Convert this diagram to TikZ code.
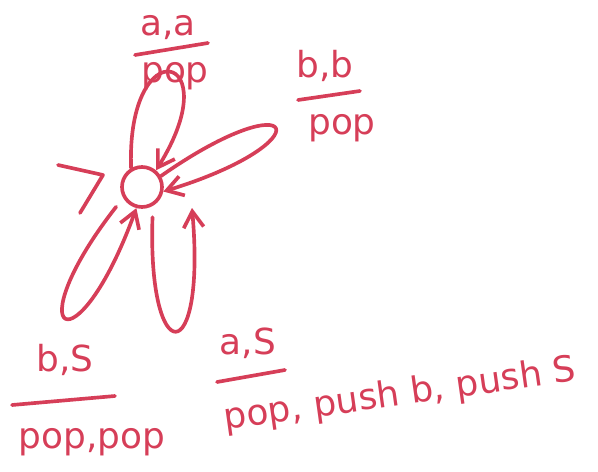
\documentclass[tikz,border=0pt]{standalone}
\usepackage{fontspec}
\usetikzlibrary{arrows.meta}
\newfontfamily\handfont{DejaVu Sans}
\definecolor{inkred}{RGB}{214,62,88}

\tikzset{
  ink/.style={draw=inkred, line width=2.6pt, line cap=round, line join=round},
  looparrow/.style={ink, -{Straight Barb[length=4mm,width=5mm]}},
  statecirc/.style={ink, circle, minimum size=1cm, inner sep=0pt},
  lbl/.style={text=inkred, font=\handfont\fontsize{25.5}{30}\selectfont, inner sep=0pt},
  fracbar/.style={ink}
}

\begin{document}
\begin{tikzpicture}[x=0.025cm, y=-0.025cm]
\useasboundingbox (0,0) rectangle (598,472);

% State
\node[statecirc] (q) at (142,187) {};

% Start marker
\coordinate (init1) at (58,165);
\coordinate (init2) at (103,175);
\coordinate (init3) at (80,213);
\draw[ink] (init1) -- (init2) -- (init3);

% Self loops
\coordinate (downtip) at (192,208);
\draw[looparrow] (q.120) .. controls +(92:3.5cm) and +(58:3.5cm) .. (q.50);
\draw[looparrow] (q.30) .. controls +(35:4.25cm) and +(17:4.25cm) .. (q.-12);
\draw[looparrow, shorten <=8pt] (q.-60) .. controls +(268:4.1cm) and +(275:4.1cm) .. (downtip);
\draw[looparrow, shorten <=8pt] (q.210) .. controls +(232:4.4cm) and +(250:4.4cm) .. (q.255);

% a,a / pop
\node[lbl] (aanum) at (168,28) {a,a};
\draw[fracbar] (135,55) -- (208,43);
\node[lbl] (aaden) at (175,76) {pop};

% b,b / pop
\node[lbl] (bbnum) at (325,66) {b,b};
\draw[fracbar] (298,100) -- (360,91);
\node[lbl] (bbden) at (342,128) {pop};

% b,S / pop,pop
\node[lbl] (bSnum) at (65,360) {b,S};
\draw[fracbar] (12,405) -- (115,396);
\node[lbl] (bSden) at (92,442) {pop,pop};

% a,S / pop, push b, push S
\node[lbl] (aSnum) at (248,343) {a,S};
\draw[fracbar] (217,382) -- (285,370);
\node[lbl, anchor=west, rotate=8] (aSden) at (224,420) {pop, push b, push S};

\end{tikzpicture}
\end{document}
